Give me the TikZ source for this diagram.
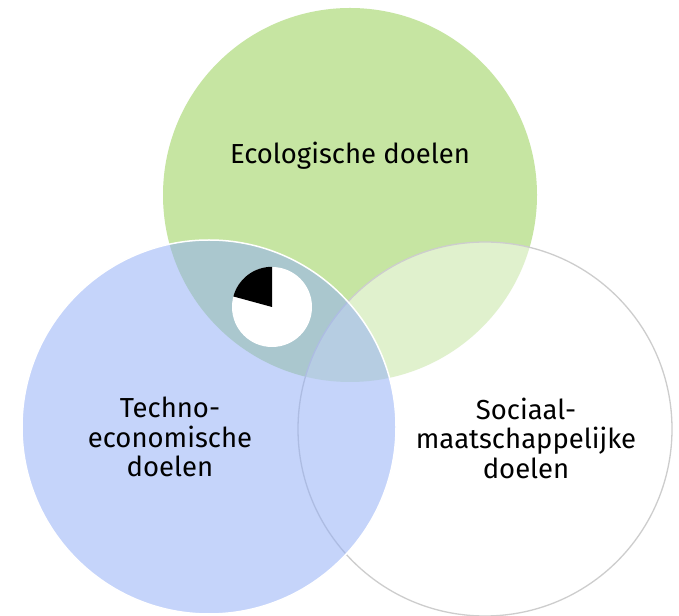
\documentclass[tikz,border=0pt]{standalone}
\usepackage{fontspec}
\setmainfont{Fira Sans}
\definecolor{ecogreen}{RGB}{198,229,162}
\definecolor{techblue}{RGB}{146,174,246}
\definecolor{socgray}{RGB}{205,205,205}
\begin{document}
\begin{tikzpicture}[x=1pt,y=1pt,
  venn/.style={circle,inner sep=0pt,minimum size=374pt},
  lbl/.style={font=\fontsize{27.5}{29.5}\selectfont,align=center,text=black,inner sep=0pt}]
\useasboundingbox (0,0) rectangle (679,615);
\fill[white] (0,0) rectangle (679,615);
% circles
\node[venn,fill=ecogreen] (eco) at (350,420) {};
\node[venn,fill=white,fill opacity=0.47,draw=socgray,line width=1.3pt] (soc) at (485,186) {};
\node[venn,fill=techblue,fill opacity=0.53,draw=white,line width=1.5pt] (tech) at (209,188) {};
% labels
\node[lbl,anchor=base] (ecolbl) at (350,451) {Ecologische doelen};
\node[lbl] (techlbl) at (170,178) {Techno-\\economische\\doelen};
\node[lbl] (soclbl) at (526,177) {Sociaal-\\maatschappelijke\\doelen};
% pie
\node[circle,fill=white,inner sep=0pt,minimum size=80pt] (pie) at (272,308) {};
\fill[black] (pie.center) -- (pie.north) arc[start angle=90,end angle=165,radius=40pt] -- cycle;
\end{tikzpicture}
\end{document}
